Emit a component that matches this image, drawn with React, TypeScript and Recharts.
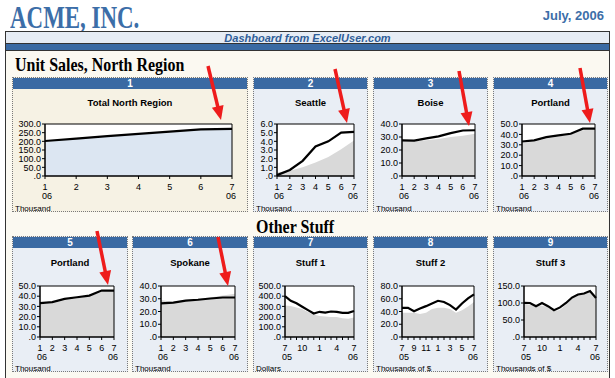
import React from "react";
import {
  ComposedChart,
  Area,
  Line,
  XAxis,
  YAxis,
  CartesianGrid,
  ReferenceArea,
} from "recharts";

// month labels along the x axis
const halfYearMonths = ["1", "2", "3", "4", "5", "6", "7"];
const halfYearYears = ["06", "", "", "", "", "", "06"];
const yearMonths = ["7", "8", "9", "10", "11", "12", "1", "2", "3", "4", "5", "6", "7"];
const yearYears = ["05", "", "", "", "", "", "", "", "", "", "", "", "06"];

// which month ticks get a text label
const halfYearLabelled = [0, 1, 2, 3, 4, 5, 6];
const quarterLabelled = [0, 3, 6, 9, 12];
const bimonthLabelled = [0, 2, 4, 6, 8, 10, 12];

// series values (black line = actual, gray area = target)
const totalNorth = [202, 216, 230, 243, 256, 269, 272];
const seattleActual = [0.1, 0.7, 1.75, 3.4, 4.0, 5.0, 5.1];
const seattleTarget = [0.4, 0.6, 1.0, 1.55, 2.2, 3.1, 4.1];
const boiseActual = [27.4, 27.2, 29.0, 30.5, 33.0, 35.0, 35.2];
const boiseTarget = [27.0, 27.0, 27.5, 28.5, 30.0, 31.0, 32.5];
const portlandActual = [33.2, 34.2, 37.4, 39.0, 40.6, 45.5, 45.5];
const portlandTarget = [32.0, 33.0, 36.0, 38.0, 40.0, 44.0, 45.0];
const spokaneActual = [26.3, 27.0, 28.5, 29.2, 30.2, 31.0, 31.0];
const spokaneTarget = [29.0, 27.5, 29.0, 30.0, 31.0, 32.5, 34.0];
const stuff1Actual = [400, 355, 330, 296, 263, 230, 247, 240, 250, 247, 237, 237, 255];
const stuff1Target = [310, 305, 290, 275, 245, 220, 205, 200, 195, 195, 185, 180, 190];
const stuff2Actual = [45.8, 45.8, 40.5, 44.7, 48.4, 52.6, 56.8, 55.0, 50.0, 43.0, 52.6, 60.5, 66.8];
const stuff2Target = [38, 38, 38, 36, 38, 44, 46, 46, 44, 38, 42, 48, 55];
const stuff3Actual = [100.6, 100, 90.7, 100, 90.7, 79, 87, 100, 116, 125, 128, 135, 115];
const stuff3Target = [98, 95, 95, 92, 88, 75, 80, 95, 115, 125, 128, 138, 120];

const SANS = "'Liberation Sans', Arial, sans-serif";
const SERIF = "'Liberation Serif', 'Times New Roman', serif";
const BLUE = "#3A6AA3";
const PANEL_BG = "#E9EEF5";
const BEIGE_BG = "#F6F2E4";
const CREAM = "#FBF9F1";

const rows = {
  1: { top: 77, height: 135, plotOffset: 47, plotH: 52, titleY: 25 },
  2: { top: 236, height: 136, plotOffset: 50, plotH: 51, titleY: 26 },
};

const panels = [
  { num: "1", title: "Total North Region", row: 1, left: 12, width: 236, plotL: 33, plotR: 220, bg: BEIGE_BG, fill: "#DCE6F2", months: halfYearMonths, years: halfYearYears, labelled: halfYearLabelled, actual: totalNorth, target: totalNorth, yMax: 300, yTicks: [0, 50, 100, 150, 200, 250, 300], unit: "Thousand" },
  { num: "2", title: "Seattle", row: 1, left: 253, width: 115, plotL: 24, plotR: 101, bg: PANEL_BG, fill: "#D9D9D9", months: halfYearMonths, years: halfYearYears, labelled: halfYearLabelled, actual: seattleActual, target: seattleTarget, yMax: 6, yTicks: [0, 1, 2, 3, 4, 5, 6], unit: "Thousand" },
  { num: "3", title: "Boise", row: 1, left: 373, width: 115, plotL: 29, plotR: 102, bg: PANEL_BG, fill: "#D9D9D9", months: halfYearMonths, years: halfYearYears, labelled: halfYearLabelled, actual: boiseActual, target: boiseTarget, yMax: 40, yTicks: [0, 10, 20, 30, 40], unit: "Thousand" },
  { num: "4", title: "Portland", row: 1, left: 493, width: 115, plotL: 29, plotR: 102, bg: PANEL_BG, fill: "#D9D9D9", months: halfYearMonths, years: halfYearYears, labelled: halfYearLabelled, actual: portlandActual, target: portlandTarget, yMax: 50, yTicks: [0, 10, 20, 30, 40, 50], unit: "Thousand" },
  { num: "5", title: "Portland", row: 2, left: 12, width: 116, plotL: 28, plotR: 102, bg: PANEL_BG, fill: "#D9D9D9", months: halfYearMonths, years: halfYearYears, labelled: halfYearLabelled, actual: portlandActual, target: portlandTarget, yMax: 50, yTicks: [0, 10, 20, 30, 40, 50], unit: "Thousand" },
  { num: "6", title: "Spokane", row: 2, left: 132, width: 116, plotL: 29, plotR: 103, bg: PANEL_BG, fill: "#D9D9D9", months: halfYearMonths, years: halfYearYears, labelled: halfYearLabelled, actual: spokaneActual, target: spokaneTarget, yMax: 40, yTicks: [0, 10, 20, 30, 40], unit: "Thousand" },
  { num: "7", title: "Stuff 1", row: 2, left: 253, width: 115, plotL: 32, plotR: 101, bg: PANEL_BG, fill: "#D9D9D9", months: yearMonths, years: yearYears, labelled: quarterLabelled, actual: stuff1Actual, target: stuff1Target, yMax: 500, yTicks: [0, 100, 200, 300, 400, 500], unit: "Dollars" },
  { num: "8", title: "Stuff 2", row: 2, left: 373, width: 115, plotL: 29, plotR: 101, bg: PANEL_BG, fill: "#D9D9D9", months: yearMonths, years: yearYears, labelled: bimonthLabelled, actual: stuff2Actual, target: stuff2Target, yMax: 80, yTicks: [0, 20, 40, 60, 80], unit: "Thousands of $" },
  { num: "9", title: "Stuff 3", row: 2, left: 493, width: 115, plotL: 31, plotR: 103, bg: PANEL_BG, fill: "#D9D9D9", months: yearMonths, years: yearYears, labelled: quarterLabelled, actual: stuff3Actual, target: stuff3Target, yMax: 150, yTicks: [0, 50, 100, 150], unit: "Thousands of $" },
];

// red call-out arrows drawn over the dashboard
const arrows = [
  [208, 66, 221, 120],
  [335, 69, 347, 123],
  [459, 71, 469, 126],
  [580, 68, 590, 123],
  [97, 231, 108, 285],
  [218, 237, 228, 286],
];

const fmtY = (v: number) => (v === 0 ? ".0" : v.toFixed(1));

const MonthTick = (props: any) => {
  const { x, y, payload, months, years, labelled } = props;
  const i = payload.value as number;
  return (
    <g fontFamily={SANS} fontSize={9} fill="#000">
      {labelled.includes(i) && (
        <text x={x} y={y} dy={8.8} textAnchor="middle">
          {months[i]}
        </text>
      )}
      {years[i] && (
        <text x={i === 0 ? x - 3 : x - 1} y={y} dy={18.3} textAnchor={i === 0 ? "start" : "middle"}>
          {years[i]}
        </text>
      )}
    </g>
  );
};

const Panel = ({ p }: { p: any }) => {
  const row = rows[p.row as 1 | 2];
  const data = p.months.map((m: string, i: number) => ({ i, actual: p.actual[i], target: p.target[i] }));
  const n = p.months.length;
  const yw = p.plotL - 3;
  const chartW = yw + (p.plotR - p.plotL) + 4;
  const chartH = 5 + row.plotH + 30;
  return (
    <div
      style={{
        position: "absolute",
        left: p.left,
        top: row.top,
        width: p.width - 2,
        height: row.height - 2,
        border: "1px dotted #7a7a7a",
        background: p.bg,
      }}
    >
      <div
        style={{
          height: 11,
          background: BLUE,
          color: "#fff",
          fontFamily: SANS,
          fontWeight: "bold",
          fontSize: 10,
          lineHeight: "11px",
          textAlign: "center",
        }}
      >
        {p.num}
      </div>
      <div
        style={{
          position: "absolute",
          left: 0,
          right: 0,
          top: row.titleY - 6,
          lineHeight: "12px",
          textAlign: "center",
          fontFamily: SANS,
          fontWeight: "bold",
          fontSize: 9.5,
          color: "#000",
        }}
      >
        {p.title}
      </div>
      <div style={{ position: "absolute", left: 2, top: row.plotOffset - 5 - 1 }}>
        <ComposedChart width={chartW} height={chartH} data={data} margin={{ top: 5, right: 4, bottom: 0, left: 0 }}>
          <CartesianGrid horizontal={false} vertical={false} fill="#fff" />
          <XAxis
            type="number"
            dataKey="i"
            domain={[0, n - 1]}
            ticks={data.map((d: any) => d.i)}
            interval={0}
            height={30}
            tickSize={3}
            axisLine={{ stroke: "#000" }}
            tickLine={{ stroke: "#000" }}
            tick={(tp: any) => <MonthTick {...tp} months={p.months} years={p.years} labelled={p.labelled} />}
          />
          <YAxis
            type="number"
            domain={[0, p.yMax]}
            ticks={p.yTicks}
            interval={0}
            width={yw}
            tickSize={3}
            tickMargin={1}
            axisLine={{ stroke: "#000" }}
            tickLine={{ stroke: "#000" }}
            tick={{ fontSize: 9, fill: "#000", fontFamily: SANS }}
            tickFormatter={fmtY}
          />
          <Area
            type="linear"
            dataKey="target"
            fill={p.fill}
            fillOpacity={1}
            stroke="none"
            isAnimationActive={false}
          />
          <Line
            type="linear"
            dataKey="actual"
            stroke="#000"
            strokeWidth={2.2}
            dot={false}
            isAnimationActive={false}
          />
          <ReferenceArea x1={0} x2={n - 1} y1={0} y2={p.yMax} fill="none" stroke="#000" strokeWidth={1} />
        </ComposedChart>
      </div>
      <div
        style={{
          position: "absolute",
          left: 2,
          top: 126 + (p.row === 2 ? 1 : 0),
          fontFamily: SANS,
          fontSize: 8,
          lineHeight: "10px",
          color: "#000",
          whiteSpace: "nowrap",
        }}
      >
        {p.unit}
      </div>
    </div>
  );
};

const Arrow = ({ a }: { a: number[] }) => {
  const [x1, y1, x2, y2] = a;
  const len = Math.hypot(x2 - x1, y2 - y1);
  const dx = (x2 - x1) / len;
  const dy = (y2 - y1) / len;
  const px = -dy;
  const py = dx;
  const hl = 14;
  const hw = 6;
  const bx = x2 - dx * hl;
  const by = y2 - dy * hl;
  return (
    <g>
      <line x1={x1} y1={y1} x2={bx + dx * 2} y2={by + dy * 2} stroke="#EE1C1C" strokeWidth={3.5} />
      <polygon
        points={`${x2},${y2} ${bx + px * hw},${by + py * hw} ${bx - px * hw},${by - py * hw}`}
        fill="#EE1C1C"
      />
    </g>
  );
};

export default function App() {
  return (
    <div
      style={{
        position: "absolute",
        left: 0,
        top: 0,
        width: 615,
        height: 378,
        overflow: "hidden",
        background: "#fff",
      }}
    >
      <div
        style={{
          position: "absolute",
          left: 10,
          top: 0,
          fontFamily: SERIF,
          fontWeight: "bold",
          fontSize: 31,
          lineHeight: "35px",
          color: "#3C6EA8",
          transform: "scaleX(0.74)",
          transformOrigin: "left top",
          whiteSpace: "nowrap",
        }}
      >
        ACME, INC.
      </div>
      <div
        style={{
          position: "absolute",
          right: 11,
          top: 8,
          fontFamily: SANS,
          fontWeight: "bold",
          fontSize: 13,
          lineHeight: "15px",
          color: "#3C6EA8",
        }}
      >
        July, 2006
      </div>
      <div
        style={{
          position: "absolute",
          left: 5,
          top: 31,
          width: 603,
          height: 360,
          border: "1px solid #333",
          background: CREAM,
        }}
      >
        <div
          style={{
            height: 11,
            background: "#E6ECF4",
            borderBottom: "1px solid #333",
            textAlign: "center",
            fontFamily: SANS,
            fontStyle: "italic",
            fontWeight: "bold",
            fontSize: 11,
            lineHeight: "12px",
            color: "#2F5D98",
          }}
        >
          Dashboard from ExcelUser.com
        </div>
        <div style={{ height: 6, background: BLUE, borderBottom: "1px solid #333" }} />
      </div>
      <div
        style={{
          position: "absolute",
          left: 15,
          top: 55,
          fontFamily: SERIF,
          fontWeight: "bold",
          fontSize: 19,
          lineHeight: "19px",
          color: "#000",
          transform: "scaleX(0.84)",
          transformOrigin: "left top",
          whiteSpace: "nowrap",
        }}
      >
        Unit Sales, North Region
      </div>
      <div
        style={{
          position: "absolute",
          left: 256,
          top: 217,
          fontFamily: SERIF,
          fontWeight: "bold",
          fontSize: 19,
          lineHeight: "19px",
          color: "#000",
          transform: "scaleX(0.84)",
          transformOrigin: "left top",
          whiteSpace: "nowrap",
        }}
      >
        Other Stuff
      </div>
      {panels.map((p) => (
        <Panel key={p.num} p={p} />
      ))}
      <svg
        width={615}
        height={378}
        style={{ position: "absolute", left: 0, top: 0, pointerEvents: "none" }}
      >
        {arrows.map((a, k) => (
          <Arrow key={k} a={a} />
        ))}
      </svg>
    </div>
  );
}
